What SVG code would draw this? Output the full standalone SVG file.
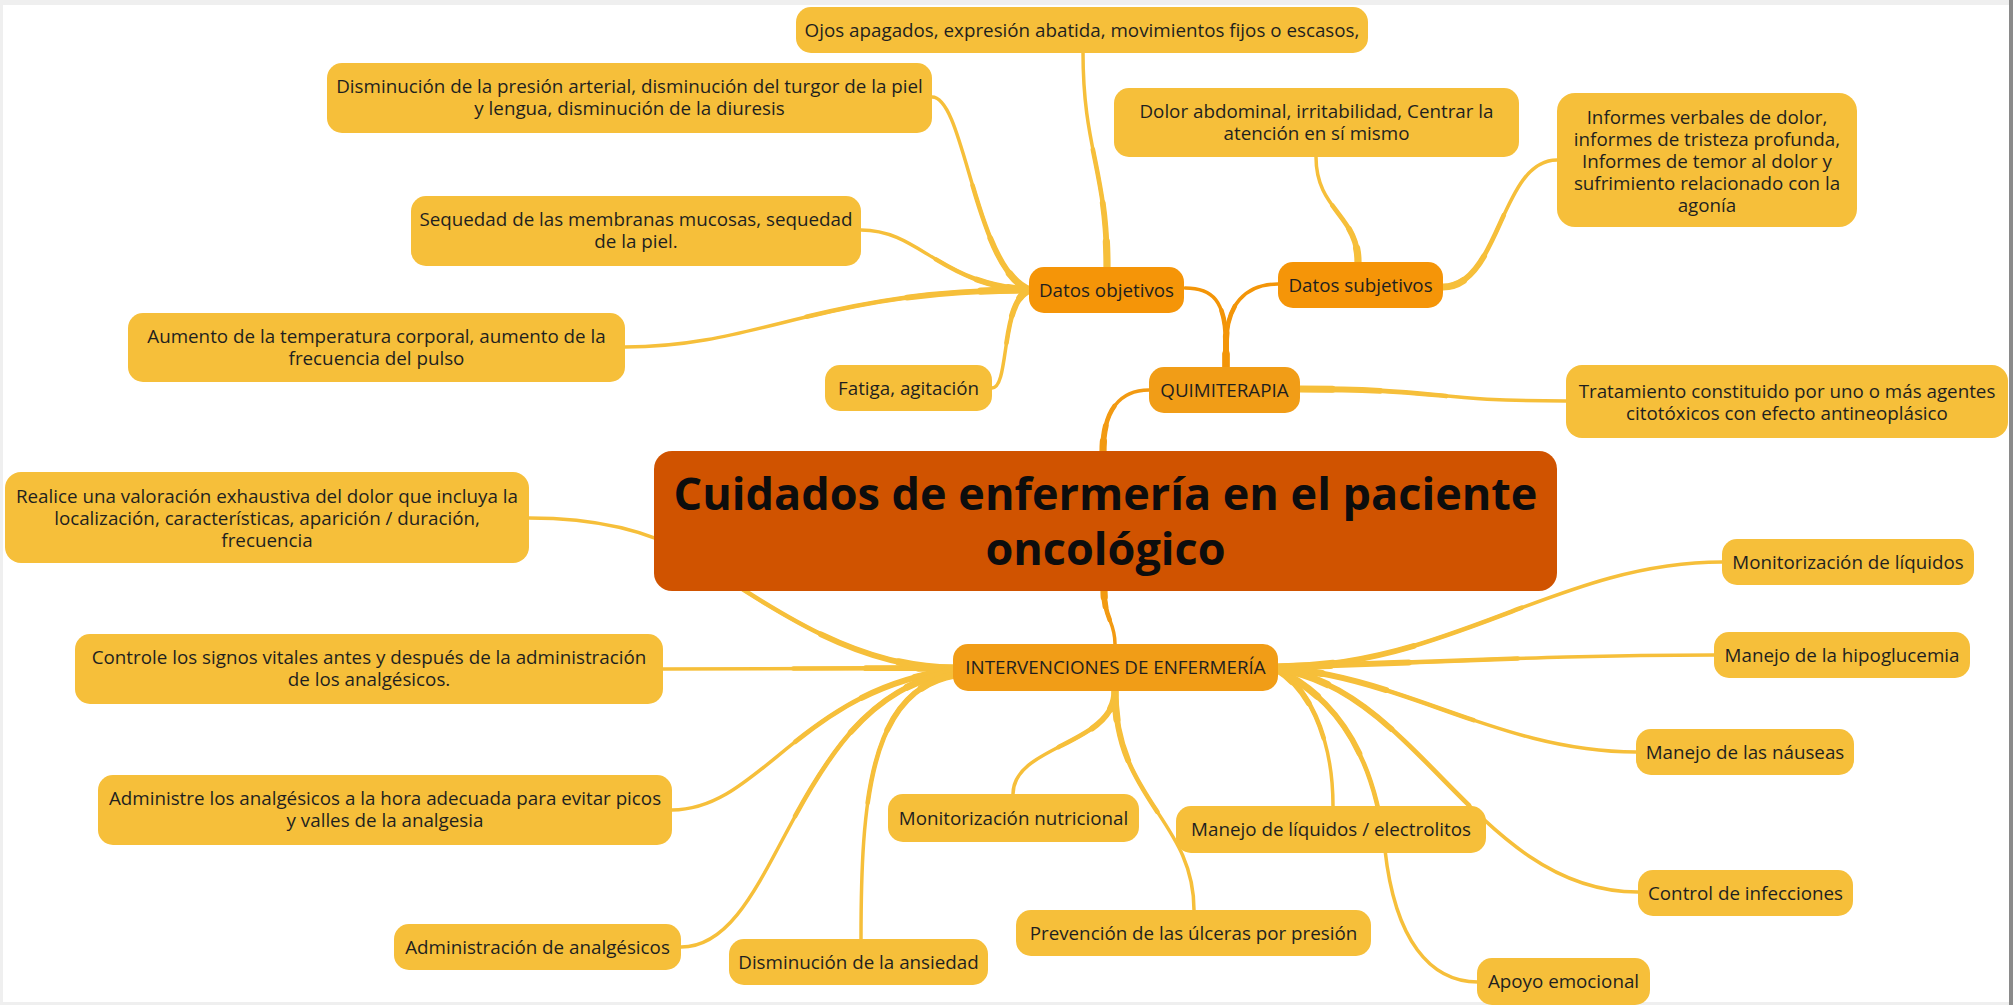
<svg xmlns="http://www.w3.org/2000/svg" xmlns:xlink="http://www.w3.org/1999/xlink" width="2013" height="1005" viewBox="0 0 2013 1005">
<style>
.leaf{fill:#F6BF3A}
.sub{fill:#F59508}
.main{fill:#F19D17}
.root{fill:#D05300}
text{font-family:"Open Sans","Noto Sans","DejaVu Sans",sans-serif;font-size:18.8px;fill:#1f1f1f;text-anchor:middle}
.title{font-size:45px;font-weight:700;fill:#0d0d0d}
#connectors{fill:none;stroke-linecap:round;stroke-linejoin:round}
.y{stroke:#F6BF3A}
.o{stroke:#F39508}
.o2{stroke:#F29A12}
.base{stroke-width:3.5}
.mid{stroke-width:4.6;stroke-dasharray:55 200}
.mid2{stroke-width:5.8;stroke-dasharray:30 200}
.thick{stroke-width:7.2;stroke-dasharray:12 200}
</style>
<rect x="0" y="0" width="2013" height="1005" fill="#ffffff"/>
<rect x="0" y="0" width="2013" height="5" fill="#efefef"/>
<rect x="0" y="0" width="3" height="1005" fill="#efefef"/>
<rect x="0" y="1002" width="2013" height="3" fill="#efefef"/>
<rect x="2009" y="0" width="4" height="1005" fill="#8a8a8a"/>
<g id="connectors">
<g class="base">
<path id="c-ojos" class="y" pathLength="100" d="M 1107 268 C 1107 170, 1083 150, 1083 52"/>
<path id="c-dism" class="y" pathLength="100" d="M 1030 290 C 975 270, 965 97, 932 97"/>
<path id="c-seq" class="y" pathLength="100" d="M 1030 290 C 940 285, 920 230, 861 230"/>
<path id="c-aum" class="y" pathLength="100" d="M 1030 290 C 820 290, 760 347, 625 347"/>
<path id="c-fat" class="y" pathLength="100" d="M 1030 290 C 1000 300, 1010 388, 992 388"/>
<path id="c-dolor" class="y" pathLength="100" d="M 1358 262 C 1358 215, 1316 210, 1316 157"/>
<path id="c-inf" class="y" pathLength="100" d="M 1443 287 C 1500 287, 1500 160, 1557 160"/>
<path id="c-trat" class="y" pathLength="100" d="M 1300 389 C 1440 389, 1430 401, 1566 401"/>
<path id="c-q" class="o2" pathLength="100" d="M 1103 452 C 1103 410, 1120 390, 1149 390"/>
<path id="c-int" class="o2" pathLength="100" d="M 1104 590 C 1104 620, 1115 620, 1115 644"/>
<path id="c-do" class="o" pathLength="100" d="M 1226 367 L 1226 345 C 1226 300, 1212 288, 1185 288"/>
<path id="c-ds" class="o" pathLength="100" d="M 1226 367 L 1226 345 C 1226 305, 1245 284, 1278 284"/>
<path id="c-real" class="y" pathLength="100" d="M 953 668 C 850 668, 760 600, 690 555 C 640 525, 580 518, 529 518"/>
<path id="c-ctrl" class="y" pathLength="100" d="M 953 668 C 850 668, 760 669, 663 669"/>
<path id="c-adm" class="y" pathLength="100" d="M 953 670 C 800 690, 760 810, 672 810"/>
<path id="c-adma" class="y" pathLength="100" d="M 953 672 C 790 700, 780 947, 681 947"/>
<path id="c-ans" class="y" pathLength="100" d="M 955 675 C 870 690, 861 800, 861 939"/>
<path id="c-mnut" class="y" pathLength="100" d="M 1115 691 C 1115 745, 1013 745, 1013 794"/>
<path id="c-prev" class="y" pathLength="100" d="M 1115 691 C 1115 800, 1194 820, 1194 910"/>
<path id="c-mliq" class="y" pathLength="100" d="M 1278 670 C 1310 690, 1333 740, 1333 806"/>
<path id="c-apoyo" class="y" pathLength="100" d="M 1278 670 C 1340 700, 1375 760, 1385 850 C 1395 940, 1430 982, 1478 982"/>
<path id="c-monliq" class="y" pathLength="100" d="M 1278 667 C 1450 667, 1560 562, 1722 562"/>
<path id="c-hipo" class="y" pathLength="100" d="M 1278 667 C 1450 662, 1550 655, 1714 655"/>
<path id="c-naus" class="y" pathLength="100" d="M 1278 668 C 1400 675, 1500 752, 1636 752"/>
<path id="c-infec" class="y" pathLength="100" d="M 1278 669 C 1420 690, 1480 892, 1638 892"/>
</g>
<g class="mid">
<use href="#c-ojos"/><use href="#c-dism"/><use href="#c-seq"/><use href="#c-aum"/><use href="#c-fat"/>
<use href="#c-dolor"/><use href="#c-inf"/><use href="#c-trat"/><use href="#c-q"/><use href="#c-int"/>
<use href="#c-do"/><use href="#c-ds"/><use href="#c-real"/><use href="#c-ctrl"/><use href="#c-adm"/>
<use href="#c-adma"/><use href="#c-ans"/><use href="#c-mnut"/><use href="#c-prev"/><use href="#c-mliq"/>
<use href="#c-apoyo"/><use href="#c-monliq"/><use href="#c-hipo"/><use href="#c-naus"/><use href="#c-infec"/>
</g>
<g class="mid2">
<use href="#c-ojos"/><use href="#c-dism"/><use href="#c-seq"/><use href="#c-aum"/><use href="#c-fat"/>
<use href="#c-dolor"/><use href="#c-inf"/><use href="#c-trat"/><use href="#c-q"/><use href="#c-int"/>
<use href="#c-do"/><use href="#c-ds"/><use href="#c-real"/><use href="#c-ctrl"/><use href="#c-adm"/>
<use href="#c-adma"/><use href="#c-ans"/><use href="#c-mnut"/><use href="#c-prev"/><use href="#c-mliq"/>
<use href="#c-apoyo"/><use href="#c-monliq"/><use href="#c-hipo"/><use href="#c-naus"/><use href="#c-infec"/>
</g>
<g class="thick">
<use href="#c-ojos"/><use href="#c-dism"/><use href="#c-seq"/><use href="#c-aum"/><use href="#c-fat"/>
<use href="#c-dolor"/><use href="#c-inf"/><use href="#c-trat"/><use href="#c-q"/><use href="#c-int"/>
<use href="#c-do"/><use href="#c-ds"/><use href="#c-real"/><use href="#c-ctrl"/><use href="#c-adm"/>
<use href="#c-adma"/><use href="#c-ans"/><use href="#c-mnut"/><use href="#c-prev"/><use href="#c-mliq"/>
<use href="#c-apoyo"/><use href="#c-monliq"/><use href="#c-hipo"/><use href="#c-naus"/><use href="#c-infec"/>
</g>
</g>
<g id="n-central"><rect class="root" x="654" y="451" width="903" height="140" rx="18"/><text class="title" x="1105.5" y="510">Cuidados de enfermería en el paciente</text><text class="title" x="1105.5" y="565">oncológico</text></g>
<g id="n-quimiterapia"><rect class="main" x="1149" y="367" width="151" height="46" rx="15"/><text x="1224.5" y="397">QUIMITERAPIA</text></g>
<g id="n-datos-objetivos"><rect class="sub" x="1029" y="267" width="155" height="46" rx="15"/><text x="1106.5" y="297">Datos objetivos</text></g>
<g id="n-datos-subjetivos"><rect class="sub" x="1278" y="262" width="165" height="46" rx="15"/><text x="1360.5" y="292">Datos subjetivos</text></g>
<g id="n-ojos"><rect class="leaf" x="796" y="7" width="572" height="46" rx="15"/><text x="1082" y="37">Ojos apagados, expresión abatida, movimientos fijos o escasos,</text></g>
<g id="n-presion"><rect class="leaf" x="327" y="63" width="605" height="70" rx="15"/><text x="629.5" y="93">Disminución de la presión arterial, disminución del turgor de la piel</text><text x="629.5" y="115">y lengua, disminución de la diuresis</text></g>
<g id="n-sequedad"><rect class="leaf" x="411" y="196" width="450" height="70" rx="15"/><text x="636" y="226">Sequedad de las membranas mucosas, sequedad</text><text x="636" y="248">de la piel.</text></g>
<g id="n-aumento"><rect class="leaf" x="128" y="313" width="497" height="69" rx="15"/><text x="376.5" y="343">Aumento de la temperatura corporal, aumento de la</text><text x="376.5" y="365">frecuencia del pulso</text></g>
<g id="n-fatiga"><rect class="leaf" x="825" y="365" width="167" height="46" rx="15"/><text x="908.5" y="395">Fatiga, agitación</text></g>
<g id="n-dolor"><rect class="leaf" x="1114" y="88" width="405" height="69" rx="15"/><text x="1316.5" y="118">Dolor abdominal, irritabilidad, Centrar la</text><text x="1316.5" y="140">atención en sí mismo</text></g>
<g id="n-informes"><rect class="leaf" x="1557" y="93" width="300" height="134" rx="18"/><text x="1707" y="124">Informes verbales de dolor,</text><text x="1707" y="146">informes de tristeza profunda,</text><text x="1707" y="168">Informes de temor al dolor y</text><text x="1707" y="190">sufrimiento relacionado con la</text><text x="1707" y="212">agonía</text></g>
<g id="n-tratamiento"><rect class="leaf" x="1566" y="365" width="442" height="73" rx="16"/><text x="1787" y="398">Tratamiento constituido por uno o más agentes</text><text x="1787" y="420">citotóxicos con efecto antineoplásico</text></g>
<g id="n-intervenciones"><rect class="main" x="953" y="644" width="325" height="47" rx="15"/><text x="1115.5" y="674">INTERVENCIONES DE ENFERMERÍA</text></g>
<g id="n-realice"><rect class="leaf" x="5" y="472" width="524" height="91" rx="16"/><text x="267" y="503">Realice una valoración exhaustiva del dolor que incluya la</text><text x="267" y="525">localización, características, aparición / duración,</text><text x="267" y="547">frecuencia</text></g>
<g id="n-controle"><rect class="leaf" x="75" y="634" width="588" height="70" rx="15"/><text x="369" y="664">Controle los signos vitales antes y después de la administración</text><text x="369" y="686">de los analgésicos.</text></g>
<g id="n-administre"><rect class="leaf" x="98" y="775" width="574" height="70" rx="15"/><text x="385" y="805">Administre los analgésicos a la hora adecuada para evitar picos</text><text x="385" y="827">y valles de la analgesia</text></g>
<g id="n-administracion"><rect class="leaf" x="394" y="924" width="287" height="46" rx="15"/><text x="537.5" y="954">Administración de analgésicos</text></g>
<g id="n-ansiedad"><rect class="leaf" x="729" y="939" width="259" height="46" rx="15"/><text x="858.5" y="969">Disminución de la ansiedad</text></g>
<g id="n-nutricional"><rect class="leaf" x="888" y="794" width="251" height="48" rx="15"/><text x="1013.5" y="825">Monitorización nutricional</text></g>
<g id="n-ulceras"><rect class="leaf" x="1016" y="910" width="355" height="46" rx="15"/><text x="1193.5" y="940">Prevención de las úlceras por presión</text></g>
<g id="n-electrolitos"><rect class="leaf" x="1176" y="806" width="310" height="47" rx="15"/><text x="1331" y="836">Manejo de líquidos / electrolitos</text></g>
<g id="n-apoyo"><rect class="leaf" x="1477" y="958" width="173" height="47" rx="15"/><text x="1563.5" y="988">Apoyo emocional</text></g>
<g id="n-monliquidos"><rect class="leaf" x="1722" y="539" width="252" height="46" rx="15"/><text x="1848" y="569">Monitorización de líquidos</text></g>
<g id="n-hipoglucemia"><rect class="leaf" x="1714" y="632" width="256" height="46" rx="15"/><text x="1842" y="662">Manejo de la hipoglucemia</text></g>
<g id="n-nauseas"><rect class="leaf" x="1636" y="729" width="218" height="46" rx="15"/><text x="1745" y="759">Manejo de las náuseas</text></g>
<g id="n-infecciones"><rect class="leaf" x="1638" y="870" width="215" height="46" rx="15"/><text x="1745.5" y="900">Control de infecciones</text></g>
</svg>
